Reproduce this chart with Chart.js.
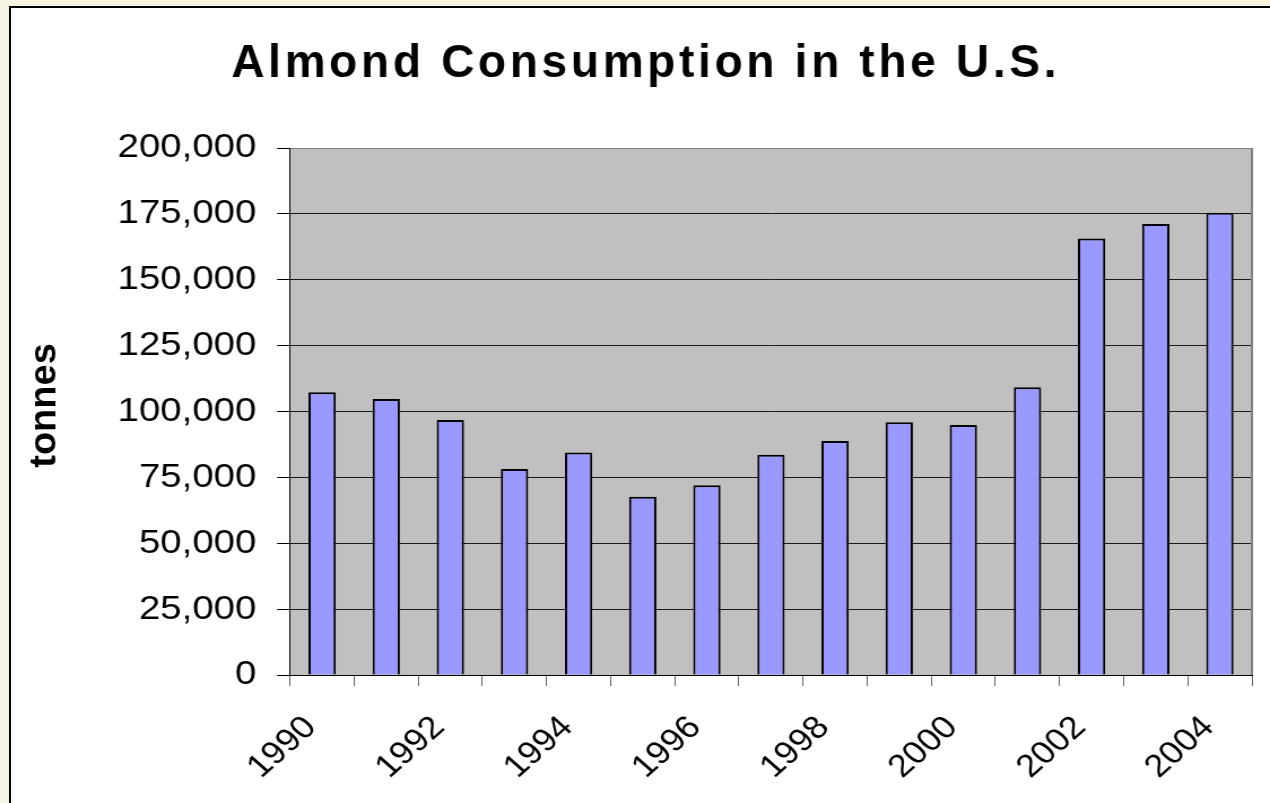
<!DOCTYPE html>
<html>
<head>
<meta charset="utf-8">
<script src="https://cdn.jsdelivr.net/npm/chart.js@4/dist/chart.umd.min.js"></script>
<style>
  html, body { margin: 0; padding: 0; overflow: hidden; }
  body { background: #f8f4e3; width: 1270px; height: 803px; position: relative; }
  #frame { position: absolute; left: 9px; top: 6px; width: 1300px; height: 850px; border: 2px solid #000; background: #fff; }
  /* ban goc bi keo gian theo chieu ngang */
  #wrap { position: absolute; left: 0; top: 0; width: 1124px; height: 803px; transform: scaleX(1.12989); transform-origin: 0 0; }
</style>
</head>
<body>
<div id="frame"></div>
<div id="wrap"><canvas id="almondChart"></canvas></div>
<script>
// du lieu bieu do
const years = ['1990', '1991', '1992', '1993', '1994', '1995', '1996', '1997', '1998', '1999', '2000', '2001', '2002', '2003', '2004'];
const tonnes = [107300, 104700, 96800, 78200, 84400, 67600, 72000, 83600, 88800, 95900, 94900, 109200, 165700, 171200, 175400];
const shownYears = ['1990', '1992', '1994', '1996', '1998', '2000', '2002', '2004'];
const yMin = 0;
const yMax = 200000;
const yStep = 25000;

const stretch = 1270 / 1124;
const yTitleSize = 38;
const yTitlePad = -14.2;

Chart.defaults.font.family = '"Liberation Sans", Arial, sans-serif';
Chart.defaults.color = '#000';

// nen xam cua vung ve + vien phai
const plotBg = {
    id: 'plotBg',
    beforeDraw(chart) {
        const { ctx, chartArea: a } = chart;
        ctx.save();
        ctx.fillStyle = '#c0c0c0';
        ctx.fillRect(a.left, a.top, a.right - a.left, a.bottom - a.top);
        ctx.restore();
    },
    afterDatasetsDraw(chart) {
        const { ctx, chartArea: a } = chart;
        ctx.save();
        ctx.strokeStyle = '#808080';
        ctx.lineWidth = 2;
        ctx.beginPath();
        ctx.moveTo(a.right, a.top);
        ctx.lineTo(a.right, a.bottom);
        ctx.stroke();
        ctx.restore();
    }
};

// tieu de va nhan truc y khong bi keo gian (chu co gian cach)
function squeeze(c, cx) {
    c.translate(cx, 0);
    c.scale(1 / stretch, 1);
    c.translate(-cx, 0);
}
const unstretch = {
    id: 'unstretch',
    beforeDraw(chart) {
        const tb = chart.titleBlock;
        if (tb && !tb._fixed) {
            const orig = tb.draw;
            tb.draw = function (area) {
                const c = this.ctx;
                c.save();
                squeeze(c, (this.left + this.right) / 2);
                c.letterSpacing = '3.7px';
                orig.call(this, area);
                c.restore();
            };
            tb._fixed = true;
        }
        const ys = chart.scales.y;
        if (ys && !ys._fixed) {
            const origT = ys.drawTitle;
            ys.drawTitle = function () {
                const c = this.ctx;
                c.save();
                c.translate(0, -6);
                squeeze(c, this.left + yTitleSize / 2 + yTitlePad);
                origT.call(this);
                c.restore();
            };
            ys._fixed = true;
        }
    }
};

const ctx = document.getElementById('almondChart').getContext('2d');

new Chart(ctx, {
    type: 'bar',
    data: {
        labels: years,
        datasets: [{
            label: 'tonnes',
            data: tonnes,
            backgroundColor: '#9999ff',
            borderColor: '#000',
            borderWidth: 2,
            barPercentage: 0.426,
            categoryPercentage: 1
        }]
    },
    options: {
        responsive: true,
        maintainAspectRatio: false,
        animation: false,
        layout: { padding: { left: 35, right: 16, top: 0, bottom: 0 } },
        plugins: {
            legend: { display: false },
            tooltip: { enabled: false },
            title: {
                display: true,
                text: 'Almond Consumption in the U.S.',
                color: '#000',
                font: { size: 46, weight: 'bold', lineHeight: 1.2 },
                padding: { top: 36.9, bottom: 55.9 }
            }
        },
        scales: {
            x: {
                offset: true,
                grid: {
                    offset: true,
                    drawOnChartArea: false,
                    drawTicks: true,
                    tickLength: 11,
                    tickColor: '#666'
                },
                border: { color: '#000', width: 1 },
                ticks: {
                    autoSkip: false,
                    minRotation: 45,
                    maxRotation: 45,
                    padding: 32.8,
                    labelOffset: -10,
                    color: '#000',
                    font: { size: 32, lineHeight: 0.32 },
                    callback: function (value, index) {
                        return shownYears.includes(years[index]) ? years[index] : '';
                    }
                },
                afterFit(scale) { scale.height = 128; }
            },
            y: {
                min: yMin,
                max: yMax,
                grid: {
                    color: c => (c.tick && c.tick.value === yMax) ? '#808080' : '#1a1a1a',
                    tickColor: '#000',
                    tickLength: 11.5
                },
                border: { color: '#000', width: 1 },
                ticks: {
                    stepSize: yStep,
                    padding: 18.3,
                    color: '#000',
                    font: { size: 34 },
                    callback: v => v.toLocaleString('en-US')
                },
                title: {
                    display: true,
                    text: 'tonnes',
                    color: '#000',
                    font: { size: yTitleSize, weight: 'bold', lineHeight: 1 },
                    padding: { top: yTitlePad, bottom: 0 }
                },
                afterFit(scale) { scale.width = 221.7; }
            }
        }
    },
    plugins: [plotBg, unstretch]
});
</script>
</body>
</html>
